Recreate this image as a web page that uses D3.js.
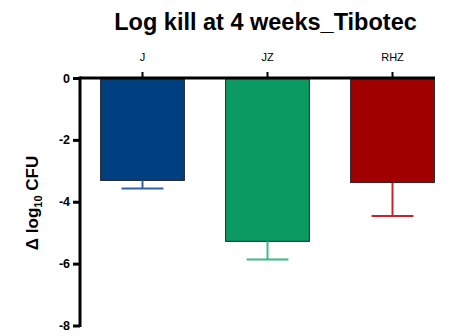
<!DOCTYPE html>
<html>
<head>
<meta charset="utf-8">
<script src="https://cdn.jsdelivr.net/npm/d3@7"></script>
<style>
  html, body { margin: 0; padding: 0; background: #fff; }
  svg { display: block; font-family: "Liberation Sans", Arial, sans-serif; }
</style>
</head>
<body>
<svg id="chart" width="450" height="336"></svg>
<script>
// Mean change in log10 CFU after 4 weeks, per regimen, with SEM (drawn downward)
const categories = ["J", "JZ", "RHZ"];
const means = [-3.31, -5.28, -3.38];
const errors = [0.26, 0.59, 1.08];
const fills = ["#003f80", "#0a9a62", "#a00000"];
const errColors = ["#2f62a8", "#3dba86", "#c2262a"];
const yTicks = [0, -2, -4, -6, -8];

const svg = d3.select("#chart");

const y = d3.scaleLinear().domain([0, -8]).range([78, 325.5]);
const x = d3.scaleBand().domain(categories).range([80, 455]).padding(0);
const barW = x.bandwidth() * 0.67;
const capW = barW * 0.5;
const cx = d => x(d) + x.bandwidth() / 2;

// Title
svg.append("text")
  .attr("x", 265.5).attr("y", 30)
  .attr("text-anchor", "middle")
  .attr("font-size", 23.5).attr("font-weight", "bold")
  .text("Log kill at 4 weeks_Tibotec");

// Bars
const rows = categories.map((c, i) => ({ c, m: means[i], e: errors[i], i }));
svg.selectAll("rect.bar").data(rows).join("rect")
  .attr("class", "bar")
  .attr("x", d => cx(d.c) - barW / 2)
  .attr("y", y(0))
  .attr("width", barW)
  .attr("height", d => y(d.m) - y(0))
  .attr("fill", d => fills[d.i])
  .attr("stroke", "#222")
  .attr("stroke-width", 1);

// Error bars (lower half)
const eb = svg.selectAll("g.err").data(rows).join("g").attr("class", "err")
  .attr("stroke", d => errColors[d.i]).attr("stroke-width", 2);
eb.append("line")
  .attr("x1", d => cx(d.c)).attr("x2", d => cx(d.c))
  .attr("y1", d => y(d.m)).attr("y2", d => y(d.m - d.e));
eb.append("line")
  .attr("x1", d => cx(d.c) - capW / 2).attr("x2", d => cx(d.c) + capW / 2)
  .attr("y1", d => y(d.m - d.e)).attr("y2", d => y(d.m - d.e));

// Y axis
const yAxis = svg.append("g").attr("transform", "translate(80,0)")
  .call(d3.axisLeft(y).tickValues(yTicks).tickSize(7).tickPadding(3).tickFormat(d3.format("d")));
yAxis.select(".domain").attr("stroke", "#000").attr("stroke-width", 3)
  .attr("d", `M0,${y(0) - 1.5}V${y(-8) + 1.5}`);
yAxis.selectAll(".tick line").attr("stroke", "#000").attr("stroke-width", 3);
yAxis.selectAll(".tick text")
  .attr("font-family", "Liberation Sans, Arial, sans-serif")
  .attr("font-size", 12.5).attr("font-weight", "bold").attr("fill", "#000")
  .text(d => d === 0 ? "0" : String(d).replace("\u2212", "-"));

// X axis along zero line, categories on top
const xAxis = svg.append("g").attr("transform", `translate(0,${y(0)})`)
  .call(d3.axisTop(x).tickSize(6).tickPadding(11));
xAxis.select(".domain").attr("stroke", "#000").attr("stroke-width", 3)
  .attr("d", `M80,0H435`);
xAxis.selectAll(".tick line").attr("stroke", "#000").attr("stroke-width", 2);
xAxis.selectAll(".tick text")
  .attr("font-family", "Liberation Sans, Arial, sans-serif")
  .attr("font-size", 11).attr("fill", "#000");

// Y axis title
const yt = svg.append("text")
  .attr("transform", "translate(38,203) rotate(-90)")
  .attr("text-anchor", "middle")
  .attr("font-size", 17).attr("font-weight", "bold");
yt.append("tspan").text("\u0394 log");
yt.append("tspan").attr("font-size", 11).attr("dy", 4).text("10");
yt.append("tspan").attr("dy", -4).text(" CFU");
</script>
</body>
</html>
